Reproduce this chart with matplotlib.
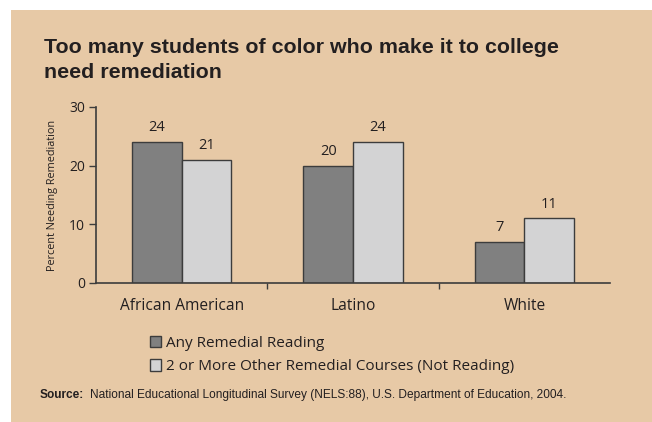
import matplotlib
matplotlib.use("Agg")
import matplotlib.pyplot as plt
from matplotlib.patches import Rectangle
import numpy as np

categories = ["African American", "Latino", "White"]
any_reading = [24, 20, 7]
two_or_more = [21, 24, 11]
series_names = ["Any Remedial Reading", "2 or More Other Remedial Courses (Not Reading)"]
yticks = [0, 10, 20, 30]

BG = "#E7C9A6"
DARK = "#808080"
LIGHT = "#D3D3D4"
EDGE = "#3C3C3C"
TXT = "#231F20"
BODY = "Open Sans"

fig = plt.figure(figsize=(6.52, 4.22), dpi=100)
fig.patch.set_facecolor("white")
fig.patches.append(Rectangle((11/652, 0), 1 - 11/652, 1 - 10/422, transform=fig.transFigure,
                             facecolor=BG, edgecolor="none", zorder=-10))

ax = fig.add_axes([96/652, 1 - 283/422, 514/652, (283 - 107)/422])
ax.set_facecolor("none")

x = np.arange(len(categories))
w = 0.29
b1 = ax.bar(x - w/2, any_reading, w, color=DARK, edgecolor=EDGE, linewidth=1.0, label=series_names[0])
b2 = ax.bar(x + w/2, two_or_more, w, color=LIGHT, edgecolor=EDGE, linewidth=1.0, label=series_names[1])

for bars, vals in ((b1, any_reading), (b2, two_or_more)):
    for r, v in zip(bars, vals):
        ax.annotate(str(v), (r.get_x() + r.get_width()/2, v), xytext=(0, 5), textcoords="offset points",
                    ha="center", va="bottom", fontsize=10.5, color=TXT, family=BODY)

ax.set_xlim(-0.5, 2.5)
ax.set_ylim(0, 30)
ax.set_yticks(yticks)
ax.set_yticklabels([str(t) for t in yticks], fontsize=10, color=TXT, family=BODY)
ax.set_xticks(x)
ax.set_xticklabels(categories, fontsize=11.2, color=TXT, family=BODY)
ax.set_xticks([0.5, 1.5], minor=True)
ax.tick_params(axis="x", which="major", length=0, pad=11)
ax.tick_params(axis="x", which="minor", length=4, width=1, color=EDGE, direction="out")
ax.tick_params(axis="y", length=5, width=1, color=EDGE, direction="out", pad=3)
for s in ("top", "right"):
    ax.spines[s].set_visible(False)
for s in ("left", "bottom"):
    ax.spines[s].set_color(EDGE)
    ax.spines[s].set_linewidth(1.2)

ax.set_ylabel("Percent Needing Remediation", fontsize=7.8, color=TXT, family=BODY)
ax.yaxis.set_label_coords(-38/514, 0.5)

fig.text(44/652, 1 - 60/422, "Too many students of color who make it to college\nneed remediation",
         fontsize=15.4, fontweight="bold", family="Liberation Sans", color=TXT,
         ha="left", va="center", linespacing=1.38)

leg = fig.legend(handles=[b1, b2], labels=series_names, loc="upper left",
                 bbox_to_anchor=(150/652, 1 - 336/422), frameon=False,
                 prop={"family": BODY, "size": 11}, handlelength=0.75, handleheight=0.75,
                 handletextpad=0.3, labelspacing=0.55, borderpad=0, borderaxespad=0)
for t in leg.get_texts():
    t.set_color(TXT)

fig.canvas.draw()
src = fig.text(40/652, 1 - 395/422, "Source:", fontsize=8.6, fontweight="bold", family="Liberation Sans",
               color=TXT, ha="left", va="center")
bb = src.get_window_extent(fig.canvas.get_renderer())
fig.text((bb.x1 + 6) / fig.bbox.width, 1 - 395/422,
         "National Educational Longitudinal Survey (NELS:88), U.S. Department of Education, 2004.",
         fontsize=8.6, family="Liberation Sans", color=TXT, ha="left", va="center")

fig.savefig("out.png", dpi=100, facecolor=fig.get_facecolor())
